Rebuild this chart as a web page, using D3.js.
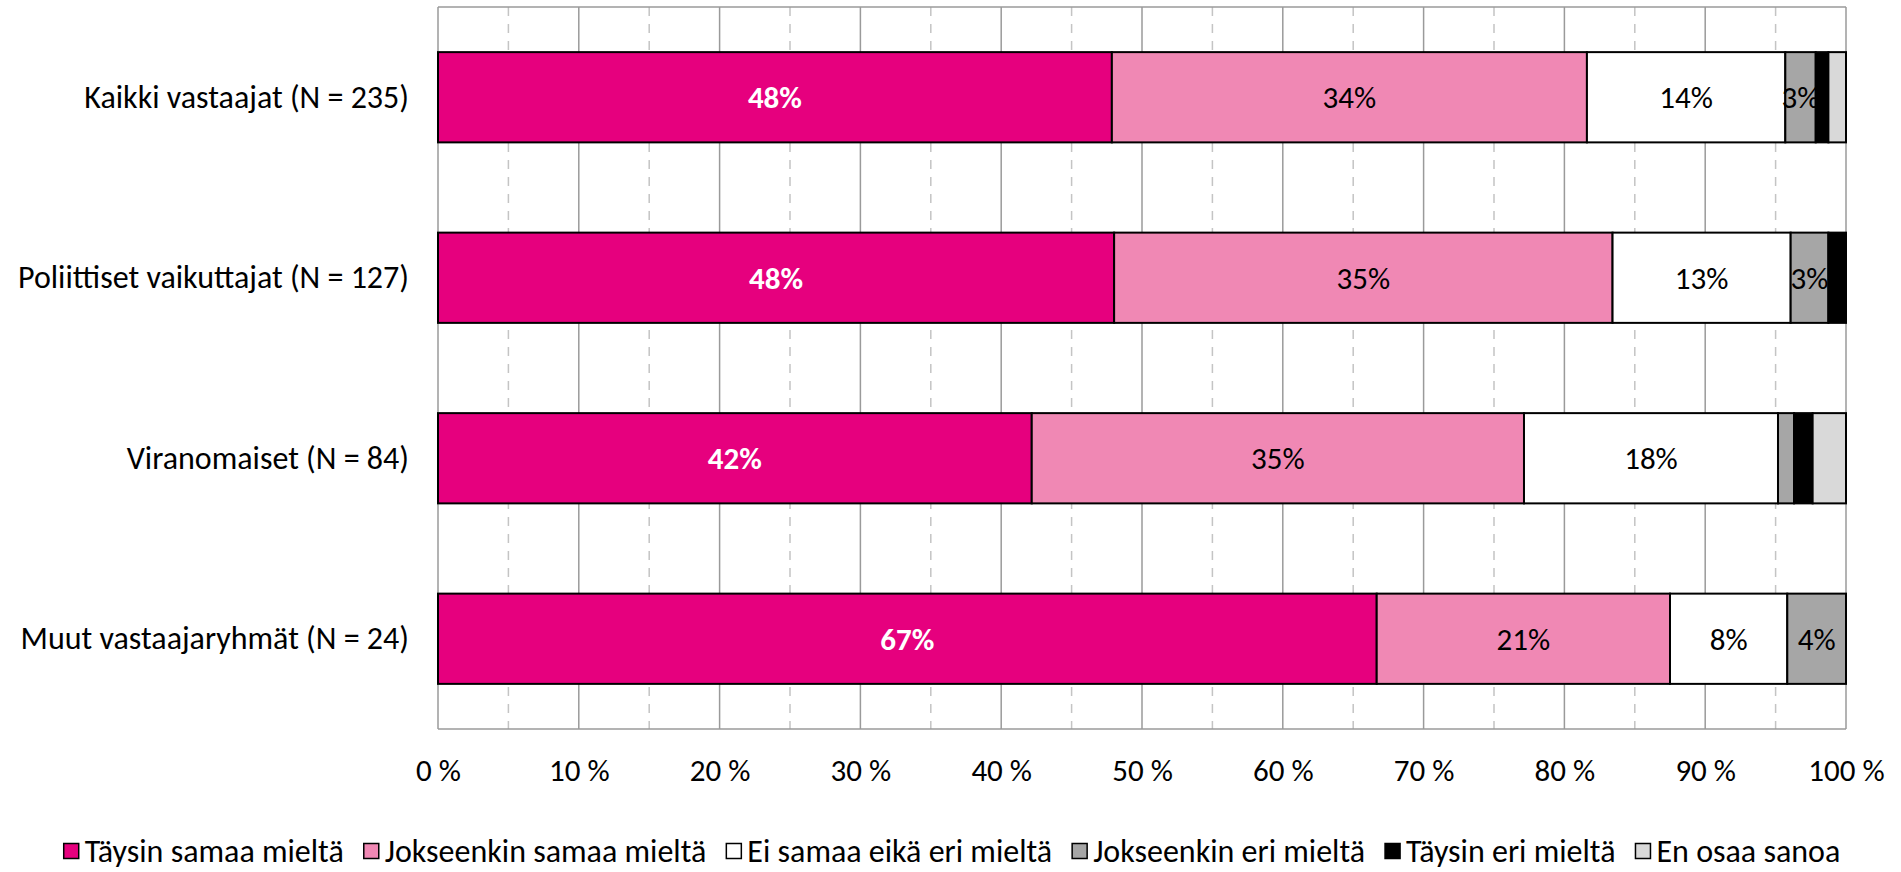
<!DOCTYPE html>
<html>
<head>
<meta charset="utf-8">
<script src="https://cdn.jsdelivr.net/npm/d3@7"></script>
<style>
  body { margin: 0; background: #fff; }
  text { font-family: Carlito, Lato, "Liberation Sans", sans-serif; }
</style>
</head>
<body>
<div id="chart"></div>
<script>
'use strict';

// categories (top to bottom)
var categories = [
  'Kaikki vastaajat (N = 235)',
  'Poliittiset vaikuttajat (N = 127)',
  'Viranomaiset (N = 84)',
  'Muut vastaajaryhmät (N = 24)'
];

var seriesNames = [
  'Täysin samaa mieltä',
  'Jokseenkin samaa mieltä',
  'Ei samaa eikä eri mieltä',
  'Jokseenkin eri mieltä',
  'Täysin eri mieltä',
  'En osaa sanoa'
];

var seriesColors = ['#e6007e', '#f088b4', '#ffffff', '#a6a6a6', '#000000', '#d9d9d9'];

// values (%) per series, one per category
var taysinSamaa     = [47.86, 48.02, 42.17, 66.67];
var jokseenkinSamaa = [33.74, 35.40, 34.96, 20.83];
var eiSamaaEiEri    = [14.09, 12.65, 18.04, 8.33];
var jokseenkinEri   = [2.16, 2.68, 1.14, 4.17];
var taysinEri       = [0.90, 1.25, 1.32, 0];
var enOsaa          = [1.25, 0, 2.37, 0];

// data labels as printed on the bars ('' = no label)
var labTaysinSamaa     = ['48%', '48%', '42%', '67%'];
var labJokseenkinSamaa = ['34%', '35%', '35%', '21%'];
var labEiSamaaEiEri    = ['14%', '13%', '18%', '8%'];
var labJokseenkinEri   = ['3%', '3%', '', '4%'];
var labTaysinEri       = ['', '', '', ''];
var labEnOsaa          = ['', '', '', ''];

var xTicks = [0, 10, 20, 30, 40, 50, 60, 70, 80, 90, 100];
var xMinorTicks = [5, 15, 25, 35, 45, 55, 65, 75, 85, 95];

var seriesValues = [taysinSamaa, jokseenkinSamaa, eiSamaaEiEri, jokseenkinEri, taysinEri, enOsaa];
var seriesLabels = [labTaysinSamaa, labJokseenkinSamaa, labEiSamaaEiEri, labJokseenkinEri, labTaysinEri, labEnOsaa];

var width = 1901, height = 872;
var plot = { left: 438, right: 1846, top: 7, bottom: 729 };
var fontSize = 31;
var bigFont = 32;

var svg = d3.select('#chart')
  .append('svg')
  .attr('width', width)
  .attr('height', height);

// table for the stack layout
var rows = categories.map(function (c, i) {
  var r = { category: c };
  seriesNames.forEach(function (s, j) { r[s] = seriesValues[j][i]; });
  return r;
});

var stacked = d3.stack().keys(seriesNames)(rows);

var x = d3.scaleLinear().domain([0, 100]).range([plot.left, plot.right]);
var y = d3.scaleBand().domain(categories).range([plot.top, plot.bottom])
  .paddingInner(0.5).paddingOuter(0.25);

// dashed minor grid
svg.append('g')
  .selectAll('line')
  .data(xMinorTicks)
  .join('line')
  .attr('x1', function (d) { return x(d); })
  .attr('x2', function (d) { return x(d); })
  .attr('y1', plot.top)
  .attr('y2', plot.bottom)
  .attr('stroke', '#c4c4c4')
  .attr('stroke-width', 1.5)
  .attr('stroke-dasharray', '9,8');

// major grid
svg.append('g')
  .selectAll('line')
  .data(xTicks)
  .join('line')
  .attr('x1', function (d) { return x(d); })
  .attr('x2', function (d) { return x(d); })
  .attr('y1', plot.top)
  .attr('y2', plot.bottom)
  .attr('stroke', '#9a9a9a')
  .attr('stroke-width', 1.5);

// top and bottom frame lines
svg.append('g')
  .selectAll('line')
  .data([plot.top, plot.bottom])
  .join('line')
  .attr('x1', plot.left)
  .attr('x2', plot.right)
  .attr('y1', function (d) { return d; })
  .attr('y2', function (d) { return d; })
  .attr('stroke', '#9a9a9a')
  .attr('stroke-width', 1.5);

// bars + labels, series by series so later segments overlay earlier labels
stacked.forEach(function (layer, j) {
  var g = svg.append('g');
  layer.forEach(function (d, i) {
    if (d[1] - d[0] <= 0) return;
    g.append('rect')
      .attr('x', x(d[0]))
      .attr('y', y(categories[i]))
      .attr('width', x(d[1]) - x(d[0]))
      .attr('height', y.bandwidth())
      .attr('fill', seriesColors[j])
      .attr('stroke', '#000')
      .attr('stroke-width', 2);
    var lab = seriesLabels[j][i];
    if (lab) {
      g.append('text')
        .attr('x', (x(d[0]) + x(d[1])) / 2)
        .attr('y', y(categories[i]) + y.bandwidth() / 2)
        .attr('dy', '0.35em')
        .attr('text-anchor', 'middle')
        .style('font-size', fontSize + 'px')
        .style('font-weight', j === 0 ? 'bold' : 'normal')
        .attr('fill', j === 0 ? '#fff' : '#000')
        .text(lab);
    }
  });
});

// x axis tick labels
var xAxis = d3.axisBottom(x)
  .tickValues(xTicks)
  .tickSize(0)
  .tickPadding(0)
  .tickFormat(function (d) { return d + ' %'; });

var gx = svg.append('g')
  .attr('transform', 'translate(0,' + 770 + ')')
  .call(xAxis);
gx.select('.domain').remove();
gx.selectAll('text')
  .attr('dy', '0.35em')
  .attr('y', 0)
  .style('font-size', fontSize + 'px')
  .style('font-family', 'Carlito, Lato, "Liberation Sans", sans-serif')
  .attr('fill', '#000');

// category labels
var yAxis = d3.axisLeft(y).tickSize(0).tickPadding(0);
var gy = svg.append('g')
  .attr('transform', 'translate(' + 409 + ',0)')
  .call(yAxis);
gy.select('.domain').remove();
gy.selectAll('text')
  .style('font-size', bigFont + 'px')
  .style('font-family', 'Carlito, Lato, "Liberation Sans", sans-serif')
  .attr('fill', '#000');

// legend
var legend = svg.append('g');
var lx = 0;
var sw = 15;
var markerGap = 6;
var itemGap = 20;
seriesNames.forEach(function (name, j) {
  legend.append('rect')
    .attr('x', lx)
    .attr('y', -sw / 2)
    .attr('width', sw)
    .attr('height', sw)
    .attr('fill', seriesColors[j])
    .attr('stroke', '#000')
    .attr('stroke-width', 1.5);
  var t = legend.append('text')
    .attr('x', lx + sw + markerGap)
    .attr('y', 0)
    .attr('dy', '0.35em')
    .style('font-size', bigFont + 'px')
    .text(name);
  lx += sw + markerGap + t.node().getComputedTextLength() + itemGap;
});
lx -= itemGap;
legend.attr('transform', 'translate(' + (952 - lx / 2) + ',' + 851 + ')');
</script>
</body>
</html>
